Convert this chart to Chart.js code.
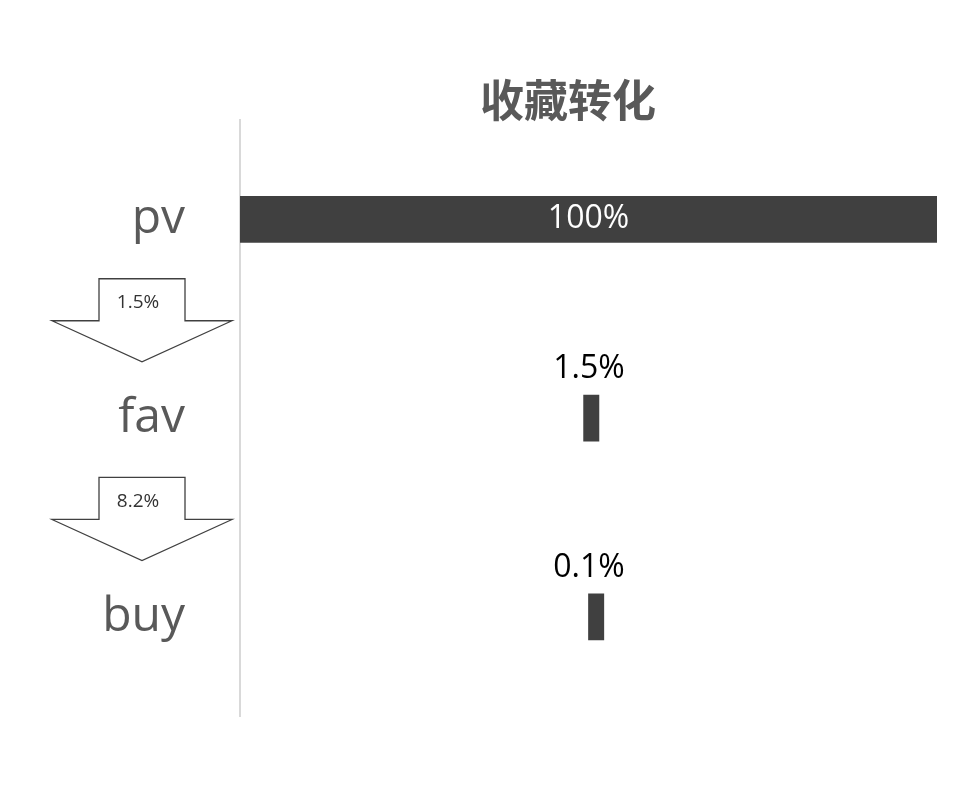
<!DOCTYPE html>
<html><head><meta charset="utf-8">
<script src="https://cdn.jsdelivr.net/npm/chart.js@4"></script>
<style>body{margin:0;background:#fff}</style>
</head><body><canvas id="c" width="954" height="800"></canvas>
<script>
const stages = ["pv", "fav", "buy"];
const shares = [100, 1.5, 0.1];
const shareLabels = ["100%", "1.5%", "0.1%"];
const stepRates = ["1.5%", "8.2%"];
const title = "收藏转化";

// centered funnel bars
const spans = shares.map((v) => [50 - v / 2, 50 + v / 2]);

const funnelDecor = {
  id: "funnelDecor",
  afterDatasetsDraw(chart) {
    const ctx = chart.ctx;
    const meta = chart.getDatasetMeta(0);
    ctx.save();
    ctx.textAlign = "center";
    ctx.fillStyle = "#595959";
    ctx.font = "bold 44px 'Noto Sans CJK SC'";
    ctx.textBaseline = "middle";
    ctx.fillText(title, 568, 100);

    meta.data.forEach((bar, i) => {
      ctx.font = "32px 'Open Sans'";
      if (i === 0) {
        ctx.fillStyle = "#fff";
        ctx.textBaseline = "middle";
        ctx.fillText(shareLabels[i], bar.x - (bar.x - bar.base) / 2, bar.y);
      } else {
        ctx.fillStyle = "#000";
        ctx.textBaseline = "bottom";
        ctx.fillText(shareLabels[i], 589, bar.y - 33);
      }
    });

    // arrows between stages
    for (let i = 0; i < stepRates.length; i++) {
      const y0 = (meta.data[i].y + meta.data[i + 1].y) / 2 - 40;
      const cx = 142;
      ctx.beginPath();
      ctx.moveTo(cx - 43, y0);
      ctx.lineTo(cx + 43, y0);
      ctx.lineTo(cx + 43, y0 + 42);
      ctx.lineTo(cx + 90, y0 + 42);
      ctx.lineTo(cx, y0 + 83);
      ctx.lineTo(cx - 90, y0 + 42);
      ctx.lineTo(cx - 43, y0 + 42);
      ctx.closePath();
      ctx.fillStyle = "#fff";
      ctx.fill();
      ctx.strokeStyle = "#404040";
      ctx.lineWidth = 1.3;
      ctx.stroke();
      ctx.fillStyle = "#333";
      ctx.font = "19px 'Open Sans'";
      ctx.textBaseline = "middle";
      ctx.fillText(stepRates[i], cx - 4, y0 + 24);
    }
    ctx.restore();
  }
};

new Chart(document.getElementById("c"), {
  type: "bar",
  data: {
    labels: stages,
    datasets: [{
      data: spans,
      backgroundColor: "#404040",
      barPercentage: 0.236,
      categoryPercentage: 1,
      minBarLength: 16,
    }],
  },
  options: {
    indexAxis: "y",
    responsive: false,
    animation: false,
    layout: { padding: { top: 120, bottom: 20, right: 17 } },
    plugins: { legend: { display: false }, tooltip: { enabled: false } },
    scales: {
      x: { display: false, min: 0, max: 100 },
      y: {
        afterFit: (s) => { s.width = 240; },
        grid: { display: false, drawTicks: false },
        border: { color: "#d9d9d9", width: 2 },
        ticks: { color: "#595959", font: { size: 48, family: "'Open Sans'" }, padding: 55 },
      },
    },
  },
  plugins: [funnelDecor],
});
</script></body></html>
